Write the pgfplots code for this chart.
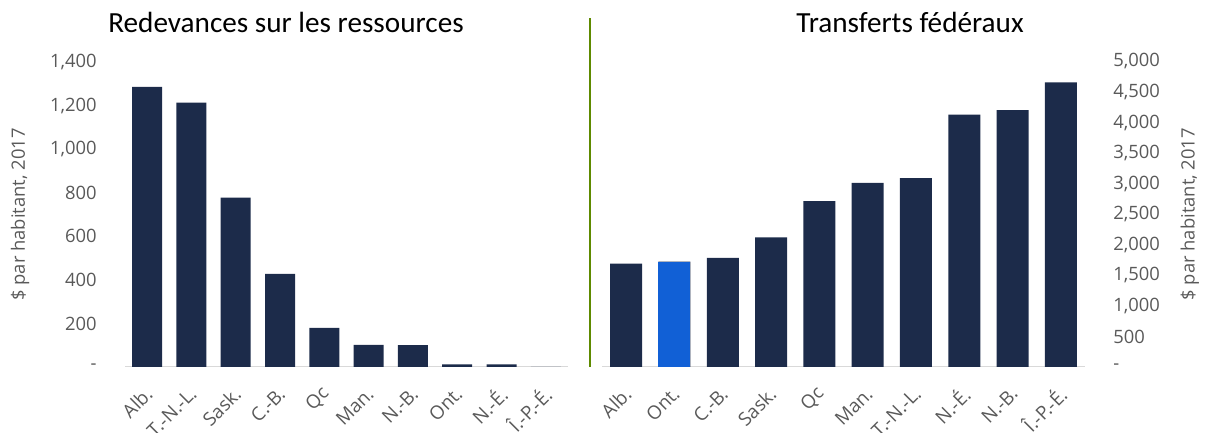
\documentclass[border=0pt]{standalone}
\usepackage{fontspec}
\setmainfont{Open Sans}
\newfontfamily\titlefont{Carlito}
\usepackage{pgfplots}
\pgfplotsset{compat=1.18}
\usepackage{pgfplotstable}

\definecolor{navy}{HTML}{1C2B4A}
\definecolor{ontblue}{HTML}{1160D6}
\definecolor{tickgray}{HTML}{595959}
\definecolor{basegray}{HTML}{D9D9D9}
\definecolor{divgreen}{HTML}{5E8A00}

% redevances sur les ressources, $ par habitant 2017
\pgfplotstableread{
idx prov val
0 Alb. 1286
1 T.-N.-L. 1213
2 Sask. 777
3 C.-B. 428
4 Qc 180
5 Man. 101
6 N.-B. 100
7 Ont. 12
8 N.-É. 12
9 Î.-P.-É. 0
}\redev

% transferts federaux
\pgfplotstableread{
idx prov val
0 Alb. 1691
1 Ont. 1724
2 C.-B. 1784
3 Sask. 2121
4 Qc 2716
5 Man. 3015
6 T.-N.-L. 3091
7 N.-É. 4131
8 N.-B. 4203
9 Î.-P.-É. 4660
}\transf

\pgfplotsset{
  barchart/.style={
    scale only axis,
    anchor=south west,
    ybar,
    xmin=-0.5, xmax=9.5,
    ymin=0,
    xtick={0,...,9},
    axis line style={draw=none},
    tick style={draw=none},
    ticklabel style={font=\fontsize{9.2}{11}\selectfont, text=tickgray},
    % shift first, then rotate, so the shift is not turned
    xticklabel style={xshift=1pt, yshift=-7.5pt, rotate=45, anchor=east, inner sep=0pt,
                      font=\fontsize{9.4}{11}\selectfont},
    ylabel={\$ par habitant, 2017},
    ylabel style={font=\fontsize{9.2}{11}\selectfont, text=tickgray, anchor=center},
  },
}

\begin{document}
\begin{tikzpicture}
\useasboundingbox (0,0) rectangle (606pt,216.5pt);

\begin{axis}[barchart,
    at={(62.5pt,33pt)},
    width=221.5pt, height=152.5pt,
    ymax=1400,
    ytick={0,200,...,1400},
    yticklabels={-,200,400,600,800,{1,000},{1,200},{1,400}},
    yticklabel style={anchor=east, inner sep=0pt, xshift=-14pt},
    xticklabels from table={\redev}{prov},
    ylabel style={at={(axis description cs:-0.237,0.5)}},
]
\draw[basegray, line width=1pt] (axis cs:-0.5,0) -- (axis cs:9.5,0);
\addplot[fill=navy, draw=none, bar width=15pt, bar shift=0pt] table[x=idx, y=val] {\redev};
\end{axis}

\begin{axis}[barchart,
    at={(301pt,33pt)},
    width=241.5pt, height=152.75pt,
    ymax=5000,
    ytick={0,500,...,5000},
    yticklabels={-,500,{1,000},{1,500},{2,000},{2,500},{3,000},{3,500},{4,000},{4,500},{5,000}},
    yticklabel pos=right,
    yticklabel style={anchor=west, inner sep=0pt, xshift=14pt},
    xticklabels from table={\transf}{prov},
    ylabel style={at={(axis description cs:1.217,0.5)}},
]
\draw[basegray, line width=1pt] (axis cs:-0.5,0) -- (axis cs:9.5,0);
\addplot[fill=navy, draw=none, bar width=16pt, bar shift=0pt] table[x=idx, y=val] {\transf};
\addplot[fill=ontblue, draw=none, bar width=16pt, bar shift=0pt] coordinates {(1,1724)};
\end{axis}

% separateur vertical et titres
\draw[divgreen, line width=0.75pt] (295pt,33pt) -- (295pt,207.5pt);
\node[anchor=base, font=\titlefont\fontsize{14.6}{17}\selectfont] at (143pt,200pt) {Redevances sur les ressources};
\node[anchor=base, font=\titlefont\fontsize{14.6}{17}\selectfont] at (455pt,200pt) {Transferts fédéraux};
\end{tikzpicture}
\end{document}
